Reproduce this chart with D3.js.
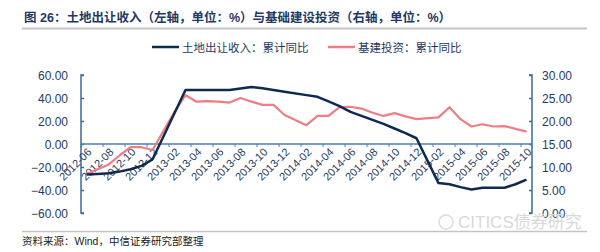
<!DOCTYPE html>
<html>
<head>
<meta charset="utf-8">
<script src="https://cdnjs.cloudflare.com/ajax/libs/d3/7.8.5/d3.min.js"></script>
<style>
body { margin: 0; background: #fff; }
svg { display: block; font-family: "Liberation Sans", Arial, "Noto Sans CJK SC", sans-serif; }
</style>
</head>
<body>
<svg class="chart" width="600" height="252"></svg>
<script>
var categories = ["2012-06","2012-07","2012-08","2012-09","2012-10","2012-11","2012-12",
    "2013-01","2013-02","2013-03","2013-04","2013-05","2013-06","2013-07","2013-08","2013-09","2013-10","2013-11","2013-12",
    "2014-01","2014-02","2014-03","2014-04","2014-05","2014-06","2014-07","2014-08","2014-09","2014-10","2014-11","2014-12",
    "2015-01","2015-02","2015-03","2015-04","2015-05","2015-06","2015-07","2015-08","2015-09","2015-10"];

// 土地出让收入：累计同比 (left axis), no January figure
var landRevenue = [-26.5,-26,-25.5,-24,-22,-19,-13.5,
    null,null,47,47,47,47,47,48.3,49.5,48.5,47,45.5,
    null,42.5,41,37,33,28,24.5,21,17.5,13.5,9.5,5,
    null,-34,-35,-37.5,-39.5,-38,-38,-38,-35,-31];

// 基建投资：累计同比 (right axis)
var infraInvest = [8.5,9.5,10.5,12.5,14.3,14.3,13.7,
    null,22,25.6,24.2,24.3,24.2,24,25,24.2,23.5,23.5,21.3,
    null,19.1,21.1,21.1,23,23.1,22.7,21.8,21.1,21.7,21,20.4,
    null,20.8,23,20.4,18.8,19.3,18.8,18.9,18.3,17.7];

var leftTicks = [60,40,20,0,-20,-40,-60];
var rightTicks = [30,25,20,15,10,5,0];

var title = "图 26：土地出让收入（左轴，单位：%）与基础建设投资（右轴，单位：%）";
var source = "资料来源：Wind，中信证券研究部整理";
var seriesNames = ["土地出让收入：累计同比", "基建投资：累计同比"];

var svg = d3.select("svg.chart");
var navy = "#0f2a4f", pink = "#ee7d85", axisColor = "#3d6a98", textColor = "#1f3a62";

var x0 = 81, x1 = 532, yTop = 75, yBot = 213;

var x = d3.scaleBand().domain(categories).range([x0, x1]);
var bw = x.bandwidth();
var yL = d3.scaleLinear().domain([-60, 60]).range([yBot, yTop]);
var yR = d3.scaleLinear().domain([0, 30]).range([yBot, yTop]);

// title + rule
svg.append("text").attr("x", 24).attr("y", 22)
    .attr("font-size", 12.5).attr("font-weight", "bold").attr("fill", "#1f3864")
    .text(title);
svg.append("line").attr("x1", 22).attr("x2", 587).attr("y1", 28.5).attr("y2", 28.5)
    .attr("stroke", "#c4c4c4").attr("stroke-width", 2);

// legend
var legend = [{name: seriesNames[0], color: navy, lx: 152, w: 2.5},
              {name: seriesNames[1], color: pink, lx: 328, w: 2.5}];
legend.forEach(function(d){
    svg.append("line").attr("x1", d.lx).attr("x2", d.lx + 27).attr("y1", 47).attr("y2", 47)
        .attr("stroke", d.color).attr("stroke-width", d.w);
    svg.append("text").attr("x", d.lx + 30).attr("y", 51.5)
        .attr("font-size", 11.5).attr("fill", textColor).text(d.name);
});

// left axis
var gL = svg.append("g").attr("transform", "translate(" + x0 + ",0)");
gL.call(d3.axisRight(yL).tickValues(leftTicks).tickSize(3).tickFormat(""));
gL.selectAll("path,line").attr("stroke", axisColor).attr("stroke-width", 1.5);
gL.select("path").attr("d", "M3," + yTop + "H0V" + yBot + "H3");
svg.append("g").selectAll("text").data(leftTicks).enter().append("text")
    .attr("x", 68).attr("y", function(d){ return yL(d) + 4.5; })
    .attr("text-anchor", "end").attr("font-size", 12).attr("fill", textColor)
    .text(function(d){ return d3.format(".2f")(d); });

// right axis
var gR = svg.append("g").attr("transform", "translate(" + x1 + ",0)");
gR.call(d3.axisLeft(yR).tickValues(rightTicks).tickSize(3).tickFormat(""));
gR.selectAll("path,line").attr("stroke", axisColor).attr("stroke-width", 1.5);
gR.select("path").attr("d", "M-3," + yTop + "H0V" + yBot + "H-3");
svg.append("g").selectAll("text").data(rightTicks).enter().append("text")
    .attr("x", 542).attr("y", function(d){ return yR(d) + 4.5; })
    .attr("font-size", 12).attr("fill", textColor)
    .text(function(d){ return d3.format(".2f")(d); });

// category axis on zero line
var labelCats = categories.filter(function(d,i){ return i % 2 === 0; });
var gX = svg.append("g").attr("transform", "translate(0," + yL(0) + ")");
gX.append("line").attr("x1", x0).attr("x2", x1).attr("stroke", "#4a7fb8").attr("stroke-width", 1.5);
gX.selectAll("line.tick").data(labelCats.concat([null])).enter().append("line")
    .attr("class", "tick")
    .attr("x1", function(d){ return d ? x(d) : x1; })
    .attr("x2", function(d){ return d ? x(d) : x1; })
    .attr("y1", 0).attr("y2", 3).attr("stroke", "#4a7fb8").attr("stroke-width", 1);
gX.selectAll("text").data(labelCats).enter().append("text")
    .attr("transform", function(d){ return "translate(" + (x(d) + bw/2 + 3) + ",6) rotate(-45)"; })
    .attr("text-anchor", "end").attr("dy", "0.35em")
    .attr("font-size", 11).attr("fill", textColor)
    .text(function(d){ return d; });

// series
function pts(values){
    return categories.map(function(c,i){ return {c: c, v: values[i]}; })
        .filter(function(d){ return d.v !== null; });
}
var lineL = d3.line().x(function(d){ return x(d.c) + bw/2; }).y(function(d){ return yL(d.v); });
var lineR = d3.line().x(function(d){ return x(d.c) + bw/2; }).y(function(d){ return yR(d.v); });

svg.append("path").datum(pts(infraInvest)).attr("d", lineR)
    .attr("fill", "none").attr("stroke", pink).attr("stroke-width", 2.2).attr("stroke-linejoin", "round");
svg.append("path").datum(pts(landRevenue)).attr("d", lineL)
    .attr("fill", "none").attr("stroke", navy).attr("stroke-width", 2.5).attr("stroke-linejoin", "round");

// watermark
svg.append("text").attr("x", 458).attr("y", 228).attr("font-size", 17)
    .attr("fill", "#d9d9d9").text("CITICS债券研究");
svg.append("circle").attr("cx", 446).attr("cy", 222).attr("r", 7)
    .attr("fill", "none").attr("stroke", "#dcdcdc").attr("stroke-width", 1.5);

// footer
svg.append("line").attr("x1", 22).attr("x2", 587).attr("y1", 231.5).attr("y2", 231.5)
    .attr("stroke", "#c4c4c4").attr("stroke-width", 1.5);
svg.append("text").attr("x", 22).attr("y", 245).attr("font-size", 10.5)
    .attr("fill", "#222").text(source);
</script>
</body>
</html>
